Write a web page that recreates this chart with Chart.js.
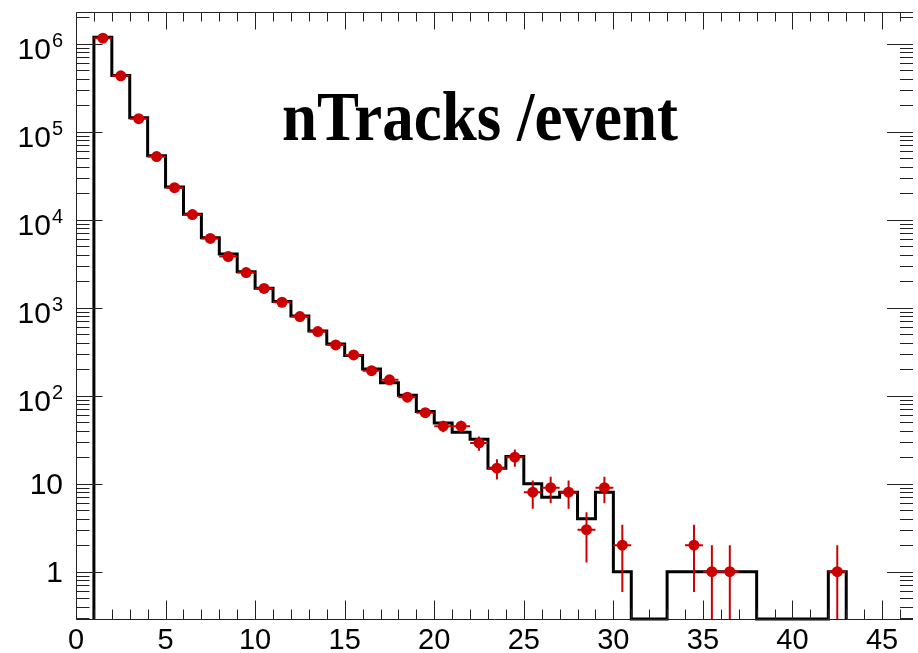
<!DOCTYPE html>
<html>
<head>
<meta charset="utf-8">
<script src="https://cdn.jsdelivr.net/npm/chart.js@4.4.0/dist/chart.umd.min.js"></script>
<style>
  html, body { margin: 0; padding: 0; background: #fff; }
</style>
</head>
<body>
<canvas id="hist" width="918" height="653"></canvas>
<script>
// bins have width 1, low edge given here
const binLow = [1, 2, 3, 4, 5, 6, 7, 8, 9, 10, 11, 12, 13, 14, 15, 16, 17, 18, 19, 20, 21,
  22, 23, 24, 25, 26, 27, 28, 29, 30, 31, 32, 33, 34, 35, 36, 37, 38, 39, 40, 41, 42];
// black histogram (reference)
const histCounts = [1.18e6, 4.33e5, 1.43e5, 5.3e4, 2.35e4, 1.15e4, 6200, 4050, 2560, 1660, 1170,
  805, 543, 387, 285, 200, 140, 101, 66, 49, 38.4, 32, 15, 20.3, 10, 7, 8, 4, 8, 1,
  0, 0, 1, 1, 1, 1, 1, 0, 0, 0, 0, 1];
// red points (data)
const dataCounts = [1.15e6, 4.3e5, 1.4e5, 5.2e4, 2.3e4, 1.14e4, 6100, 3800, 2500, 1650, 1150,
  790, 534, 377, 290, 192, 151, 96, 64, 45, 45, 29, 15, 20, 8, 9, 8, 3, 9, 2,
  0, 0, 0, 2, 1, 1, 0, 0, 0, 0, 0, 1];

const xMajorTicks = [0, 5, 10, 15, 20, 25, 30, 35, 40, 45];
const yDecades = [1, 10, 100, 1e3, 1e4, 1e5, 1e6];
const yLabels = [['1', ''], ['10', ''], ['10', '2'], ['10', '3'], ['10', '4'], ['10', '5'], ['10', '6']];
const TITLE = 'nTracks /event';

const X_MIN = 0, X_MAX = 46.7;
const Y_MIN = 0.29, Y_MAX = 2.28e6;

const RED = '#cc0000';
const SANS = '"Liberation Sans", Arial, Helvetica, sans-serif';

// step outline: horizontal at previous value, then vertical
const histLine = [{x: binLow[0], y: Y_MIN}];
binLow.forEach((lo, i) => {
  histLine.push({x: lo, y: histCounts[i] > 0 ? histCounts[i] : Y_MIN});
});
histLine.push({x: binLow[binLow.length - 1] + 1, y: Y_MIN});

const dataPoints = [];
binLow.forEach((lo, i) => {
  if (dataCounts[i] > 0) dataPoints.push({x: lo + 0.5, y: dataCounts[i]});
});

const errorBars = {
  id: 'errorBars',
  beforeDatasetDraw(chart, args) {
    if (args.index !== 0) return;
    const {ctx, chartArea: a, scales: {x, y}} = chart;
    ctx.save();
    ctx.beginPath();
    ctx.rect(a.left, a.top, a.right - a.left, a.bottom - a.top);
    ctx.clip();
    ctx.strokeStyle = RED;
    ctx.lineWidth = 2;
    ctx.beginPath();
    dataPoints.forEach(p => {
      const err = Math.sqrt(p.y);
      const px = x.getPixelForValue(p.x);
      const py = y.getPixelForValue(p.y);
      const lo = p.y - err > Y_MIN ? p.y - err : Y_MIN / 10;
      ctx.moveTo(px, y.getPixelForValue(p.y + err));
      ctx.lineTo(px, y.getPixelForValue(lo));
      ctx.moveTo(x.getPixelForValue(p.x - 0.5), py);
      ctx.lineTo(x.getPixelForValue(p.x + 0.5), py);
    });
    ctx.stroke();
    ctx.restore();
  }
};

const frameAndLabels = {
  id: 'frameAndLabels',
  afterDraw(chart) {
    const {ctx, chartArea: a, scales: {x, y}} = chart;
    ctx.save();
    ctx.strokeStyle = '#222';
    ctx.lineWidth = 1;
    ctx.beginPath();
    const L = a.left + 0.5, R = a.right + 0.5, T = a.top + 0.5, B = a.bottom + 0.5;
    ctx.moveTo(L, T); ctx.lineTo(R, T);
    ctx.moveTo(L, T); ctx.lineTo(L, B);
    ctx.moveTo(L, B); ctx.lineTo(R, B);
    // x ticks, bottom and top, pointing inward
    for (let v = Math.ceil(X_MIN); v <= X_MAX; v++) {
      const px = Math.round(x.getPixelForValue(v)) + 0.5;
      const major = v % 5 === 0;
      ctx.moveTo(px, B); ctx.lineTo(px, B - (major ? 19 : 10));
      ctx.moveTo(px, T); ctx.lineTo(px, T + (major ? 17 : 9));
    }
    // y ticks, left and right
    for (let e = -1; e <= 6; e++) {
      for (let m = 1; m <= 9; m++) {
        const v = m * Math.pow(10, e);
        if (v < Y_MIN || v > Y_MAX) continue;
        const py = Math.round(y.getPixelForValue(v)) + 0.5;
        const len = m === 1 ? 26 : 13;
        ctx.moveTo(L, py); ctx.lineTo(L + len, py);
        ctx.moveTo(R, py); ctx.lineTo(R - len, py);
      }
    }
    ctx.stroke();

    // y tick labels with superscript exponents
    ctx.fillStyle = '#000';
    ctx.textBaseline = 'alphabetic';
    y.ticks.forEach((t, i) => {
      const py = y.getPixelForValue(t.value);
      const [base, exp] = yLabels[i];
      if (exp) {
        ctx.font = '20px ' + SANS;
        const ew = ctx.measureText(exp).width;
        ctx.textAlign = 'left';
        ctx.fillText(exp, 63 - ew, py + 3);
        ctx.font = '30px ' + SANS;
        ctx.textAlign = 'right';
        ctx.fillText(base, 63 - ew - 1, py + 15.5);
      } else {
        ctx.font = '30px ' + SANS;
        ctx.textAlign = 'right';
        ctx.fillText(base, 63, py + 10.5);
      }
    });

    // title inside the frame
    ctx.font = 'bold 70px "Liberation Serif", "Times New Roman", serif';
    const w = ctx.measureText(TITLE).width;
    ctx.translate(480, 140);
    ctx.scale(396 / w, 1);
    ctx.textAlign = 'center';
    ctx.fillText(TITLE, 0, 0);
    ctx.restore();
  }
};

new Chart(document.getElementById('hist'), {
  type: 'scatter',
  data: {
    datasets: [
      {
        label: 'data',
        data: dataPoints,
        pointRadius: 5.5,
        pointHoverRadius: 5.5,
        pointBackgroundColor: RED,
        pointBorderWidth: 0,
        showLine: false
      },
      {
        type: 'line',
        label: 'reference',
        data: histLine,
        stepped: true,
        borderColor: '#000',
        borderWidth: 3,
        pointRadius: 0,
        fill: false,
        clip: 3
      }
    ]
  },
  options: {
    responsive: false,
    animation: false,
    layout: { padding: { top: 12, right: 0, left: 0, bottom: 0 } },
    plugins: {
      legend: { display: false },
      tooltip: { enabled: false }
    },
    scales: {
      x: {
        type: 'linear',
        min: X_MIN,
        max: X_MAX,
        grid: { display: false },
        border: { display: false },
        afterBuildTicks: s => { s.ticks = xMajorTicks.map(v => ({value: v})); },
        afterFit: s => { s.height = 34; },
        ticks: {
          autoSkip: false,
          maxRotation: 0,
          padding: -3,
          color: '#000',
          font: { family: SANS, size: 29 }
        }
      },
      y: {
        type: 'logarithmic',
        min: Y_MIN,
        max: Y_MAX,
        grid: { display: false },
        border: { display: false },
        afterBuildTicks: s => { s.ticks = yDecades.map(v => ({value: v})); },
        afterFit: s => { s.width = 76; },
        ticks: { display: false }
      }
    }
  },
  plugins: [errorBars, frameAndLabels]
});
</script>
</body>
</html>
